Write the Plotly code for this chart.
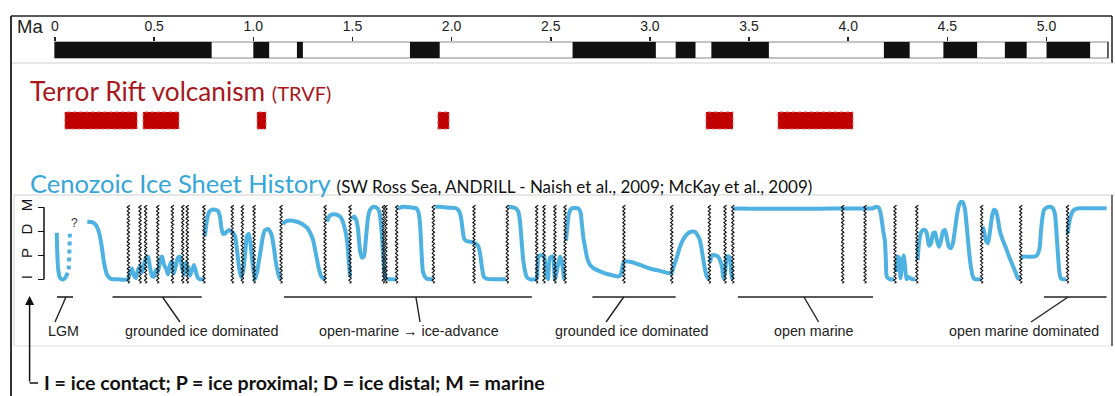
import numpy as np
import plotly.graph_objects as go

# ---------------- data ----------------
# Geomagnetic polarity timescale (Ma); black = normal polarity
normal_start = [0.00, 1.00, 1.22, 1.79, 2.61, 3.13, 3.31, 4.18, 4.48, 4.79, 5.00]
normal_end = [0.79, 1.08, 1.25, 1.94, 3.03, 3.23, 3.60, 4.31, 4.65, 4.90, 5.22]
scale_end = 5.31
tick_vals = [0, 0.5, 1.0, 1.5, 2.0, 2.5, 3.0, 3.5, 4.0, 4.5, 5.0]
tick_text = ["0", "0.5", "1.0", "1.5", "2.0", "2.5", "3.0", "3.5", "4.0", "4.5", "5.0"]

# Terror Rift volcanism (TRVF) episodes (Ma)
trvf_start = [0.050, 0.444, 1.019, 1.931, 3.283, 3.646]
trvf_end = [0.414, 0.625, 1.064, 1.987, 3.419, 4.024]

# Ice-sheet proximity levels: 0 = I, 1 = P, 2 = D, 3 = M
level_vals = [0, 1, 2, 3]
level_text = ["I", "P", "D", "M"]

lgm_age = [0.009, 0.012, 0.018, 0.028, 0.043, 0.055]
lgm_level = [1.94, 1.0, 0.3, 0.03, 0.0, 0.1]
lgm_dotted_age = [0.055, 0.068, 0.072, 0.075]
lgm_dotted_level = [0.1, 0.4, 1.0, 1.9]

ice_age = [
    0.163, 0.187, 0.207, 0.222, 0.235, 0.247, 0.262, 0.282, 0.318, 0.368,
    0.378, 0.388, 0.398, 0.408, 0.419, 0.429, 0.439, 0.449, 0.459, 0.469,
    0.479, 0.489, 0.499, 0.509, 0.519, 0.530, 0.540, 0.550, 0.560, 0.570,
    0.580, 0.590, 0.600, 0.610, 0.620, 0.630, 0.640, 0.651, 0.661, 0.671,
    0.681, 0.691, 0.701, 0.711, 0.721, 0.731, 0.741, 0.751, None,
    0.756, 0.767, 0.777, 0.792, 0.807, 0.822, 0.832, 0.840, 0.847, 0.857,
    0.868, 0.878, 0.888, 0.898, 0.908, 0.918, 0.928, 0.938, 0.948, 0.958,
    0.968, 0.978, 0.988, 0.999, 1.009, 1.019, 1.029, 1.039, 1.049, 1.059,
    1.074, 1.084, 1.094, 1.104, 1.114, 1.125, 1.135, None,
    1.150, 1.165, 1.185, 1.210, 1.236, 1.256, 1.271, 1.286, 1.301, 1.316,
    1.329, 1.341, 1.354, 1.362, None,
    1.372, 1.382, 1.397, 1.417, 1.437, 1.447, 1.462, 1.473, 1.480, 1.488, None,
    1.498, 1.508, 1.518, 1.528, 1.538, 1.548, 1.558, 1.568, 1.579, 1.589,
    1.604, 1.619, 1.634, 1.644, 1.652, 1.659, 1.667, 1.689, 1.720, None,
    1.730, 1.755, 1.790, 1.821, 1.833, 1.841, 1.848, 1.856, 1.871, 1.891,
    1.906, None,
    1.916, 1.941, 1.992, 2.022, 2.037, 2.047, 2.055, 2.063, 2.073, 2.088,
    2.103, 2.118, 2.133, 2.143, 2.153, 2.163, 2.179, 2.204, 2.244, 2.274, None,
    2.287, 2.305, 2.325, 2.337, 2.345, 2.353, 2.360, 2.370, 2.380, 2.395,
    2.426, 2.431, 2.438, 2.451, 2.466, 2.476, 2.486, 2.496, 2.511, 2.521,
    2.537, 2.547, 2.557, 2.567, None,
    2.577, 2.585, 2.592, 2.605, 2.622, 2.637, 2.650, 2.657, 2.665, 2.673,
    2.683, 2.698, 2.718, 2.748, 2.784, 2.819, 2.839, 2.852, 2.859, 2.869,
    2.900, 2.950, 3.000, 3.051, 3.101, 3.111, 3.121, 3.137, 3.152, 3.167,
    3.187, 3.207, 3.227, 3.243, 3.253, 3.260, 3.268, 3.278, 3.288, 3.298, None,
    3.303, 3.313, 3.328, 3.343, 3.353, 3.364, 3.371, 3.379, 3.389, 3.399,
    3.406, 3.411, 3.417, None,
    3.422, 3.429, 3.454, 3.555, 3.656, 3.757, 3.858, 3.959, 4.059, 4.125,
    4.140, 4.155, 4.165, 4.175, 4.185, 4.190, 4.195, 4.211, 4.231, None,
    4.241, 4.249, 4.256, 4.264, 4.271, 4.279, 4.286, 4.294, 4.302, 4.312,
    4.327, 4.337, None,
    4.350, 4.357, 4.367, 4.377, 4.387, 4.397, 4.407, 4.418, 4.428, 4.438,
    4.448, 4.458, 4.468, 4.478, 4.488, 4.498, 4.508, 4.518, 4.528, 4.539,
    4.549, 4.559, 4.569, 4.579, 4.589, 4.599, 4.609, 4.619, 4.629, 4.639,
    4.654, 4.669, None,
    4.677, 4.685, 4.695, 4.705, 4.715, 4.725, 4.735, 4.745, 4.755, 4.765,
    4.781, 4.796, 4.811, 4.826, 4.841, 4.856, 4.866, None,
    4.874, 4.887, 4.907, 4.932, 4.952, 4.965, 4.972, 4.980, 4.987, 5.003,
    5.018, 5.033, 5.043, 5.050, 5.058, 5.065, 5.073, 5.083, 5.098, None,
    5.106, 5.113, 5.123, 5.134, 5.149, 5.169, 5.194, 5.245, 5.303,
]
ice_level = [
    2.40, 2.38, 2.25, 1.95, 1.40, 0.70, 0.20, 0.02, 0.00, 0.00,
    0.30, 0.45, 0.15, 0.05, 0.40, 0.55, 0.30, 0.60, 0.90, 0.95,
    0.50, 0.15, 0.10, 0.40, 0.30, 0.80, 0.95, 0.60, 0.45, 0.20,
    0.60, 0.75, 0.25, 0.60, 0.90, 0.95, 0.50, 0.20, 0.70, 0.50,
    0.15, 0.40, 0.60, 0.30, 0.05, 0.00, 0.00, 0.00, None,
    1.80, 2.50, 2.80, 2.90, 2.90, 2.85, 2.60, 2.10, 1.90, 1.90,
    2.00, 2.05, 2.00, 1.95, 1.80, 1.20, 0.50, 0.10, 0.30, 1.00,
    1.80, 1.90, 1.30, 0.50, 0.00, 0.30, 0.80, 1.30, 1.80, 2.05,
    2.10, 2.00, 1.80, 1.30, 0.70, 0.25, 0.00, None,
    2.30, 2.42, 2.45, 2.42, 2.35, 2.25, 2.15, 1.95, 1.65, 1.05,
    0.50, 0.15, 0.03, 0.00, None,
    2.40, 2.62, 2.70, 2.70, 2.62, 2.50, 2.10, 1.60, 0.90, 0.10, None,
    2.50, 2.62, 2.50, 2.10, 1.20, 0.90, 0.95, 1.70, 2.60, 2.90,
    3.02, 3.00, 2.85, 2.30, 1.40, 0.50, 0.05, 0.00, 0.00, None,
    2.95, 3.02, 3.00, 2.96, 2.80, 2.30, 1.20, 0.30, 0.05, 0.00,
    0.00, None,
    3.02, 3.02, 2.98, 2.96, 2.85, 2.60, 2.10, 1.70, 1.60, 1.57,
    1.55, 1.50, 1.40, 1.10, 0.50, 0.10, 0.02, 0.00, 0.00, 0.00, None,
    3.02, 3.00, 2.95, 2.80, 2.40, 1.60, 0.90, 0.35, 0.08, 0.00,
    0.00, 0.10, 0.95, 1.00, 0.95, 0.30, 0.00, 0.90, 0.95, 0.00,
    0.60, 0.95, 0.70, 0.00, None,
    1.60, 2.30, 2.75, 2.95, 2.97, 2.96, 2.80, 2.30, 1.70, 1.35,
    0.90, 0.60, 0.45, 0.33, 0.22, 0.15, 0.12, 0.18, 0.40, 0.73,
    0.73, 0.60, 0.45, 0.35, 0.25, 0.30, 0.55, 0.95, 1.36, 1.65,
    1.88, 1.98, 1.98, 1.80, 1.60, 1.30, 0.90, 0.40, 0.10, 0.00, None,
    0.70, 1.00, 1.00, 0.95, 0.80, 0.50, 0.05, 0.30, 0.95, 0.95,
    0.70, 0.20, 0.00, None,
    2.89, 2.95, 2.95, 2.94, 2.94, 2.94, 2.94, 2.95, 2.95, 2.96,
    3.02, 2.98, 2.70, 2.10, 1.60, 0.80, 0.10, 0.00, 0.00, None,
    0.30, 0.95, 0.90, 0.05, 0.60, 1.00, 0.60, 0.00, 0.10, 0.05,
    0.00, 0.00, None,
    0.80, 1.50, 1.95, 2.05, 2.05, 1.90, 1.40, 1.50, 1.92, 1.95,
    1.60, 1.35, 1.60, 2.00, 2.05, 1.70, 1.35, 1.30, 1.50, 2.10,
    2.70, 3.10, 3.23, 3.20, 2.90, 2.10, 1.20, 0.50, 0.10, 0.00,
    0.00, 0.00, None,
    2.20, 2.00, 1.60, 1.50, 2.00, 2.60, 2.90, 2.85, 2.50, 2.00,
    1.60, 1.30, 0.95, 0.65, 0.35, 0.05, 0.00, None,
    0.90, 0.95, 0.94, 0.94, 1.00, 1.30, 2.00, 2.60, 2.88, 3.00,
    3.02, 2.95, 2.70, 2.00, 1.00, 0.30, 0.03, 0.00, 0.00, None,
    1.90, 2.30, 2.65, 2.85, 2.93, 2.96, 2.96, 2.96, 2.96,
]

# Unconformities (wavy lines), Ma
unconformities = [
    0.370, 0.429, 0.457, 0.518, 0.592, 0.644, 0.667, 0.751, 0.894, 0.945,
    1.004, 1.140, 1.362, 1.488, 1.656, 1.669, 1.723, 1.908, 2.113, 2.281,
    2.429, 2.466, 2.521, 2.572, 2.869, 3.110, 3.300, 3.379, 3.418, 3.972,
    4.085, 4.236, 4.346, 4.673, 4.870, 5.106,
]

# Interpretive intervals
interval_labels = ["LGM", "grounded ice dominated", "open-marine \u2192 ice-advance",
                   "grounded ice dominated", "open marine", "open marine dominated"]
interval_start = [0.010, 0.290, 1.155, 2.710, 3.444, 4.987]
interval_end = [0.091, 0.740, 2.405, 3.130, 4.125, 5.303]
interval_label_x = [0.045, 0.739, 1.783, 2.905, 3.828, 4.889]
connector_top_x = [0.055, 0.542, 1.820, 2.868, 3.777, 5.109]
connector_bottom_x = [0.000, 0.630, 1.841, 2.779, 3.851, 4.922]

# ---------------- figure ----------------
W, H = 1115, 396
BLUE = "#4db1e1"
TITLE_BLUE = "#34a6d9"
DARK_RED = "#a8171c"
BLOCK_RED = "#c00000"


def px(x):
    return x / W


def py(y):
    return 1 - y / H


fig = go.Figure()

# invisible trace to create the x/y subplot for the time scale
fig.add_trace(go.Scatter(x=[0], y=[0.5], mode="markers", marker=dict(opacity=0),
                         xaxis="x", yaxis="y", showlegend=False, hoverinfo="skip"))

# ice sheet curve
fig.add_trace(go.Scatter(x=ice_age, y=ice_level, mode="lines", xaxis="x", yaxis="y2",
                         line=dict(color=BLUE, width=4, shape="spline", smoothing=0.6),
                         connectgaps=False, showlegend=False, hoverinfo="skip"))
fig.add_trace(go.Scatter(x=lgm_age, y=lgm_level, mode="lines", xaxis="x", yaxis="y2",
                         line=dict(color=BLUE, width=4, shape="spline"),
                         showlegend=False, hoverinfo="skip"))
fig.add_trace(go.Scatter(x=lgm_dotted_age, y=lgm_dotted_level, mode="lines", xaxis="x", yaxis="y2",
                         line=dict(color=BLUE, width=4, dash="dot", shape="spline"),
                         showlegend=False, hoverinfo="skip"))

# wavy unconformity lines
wy = np.linspace(-0.17, 3.1, 130)
wx_all, wy_all = [], []
for u in unconformities:
    wx_all += list(u + 0.006 * np.sin(2 * np.pi * wy / 0.16)) + [None]
    wy_all += list(wy) + [None]
fig.add_trace(go.Scatter(x=wx_all, y=wy_all, mode="lines", xaxis="x", yaxis="y2",
                         line=dict(color="#111111", width=1.1), showlegend=False,
                         hoverinfo="skip"))

shapes = []
# polarity bar
for s, e in zip(normal_start, normal_end):
    shapes.append(dict(type="rect", xref="x", yref="y", x0=s, x1=e, y0=0, y1=1,
                       fillcolor="#111111", line=dict(width=0)))
shapes.append(dict(type="rect", xref="x", yref="y", x0=0, x1=scale_end, y0=0, y1=1,
                   fillcolor="rgba(0,0,0,0)", line=dict(color="#111111", width=1.3)))

# TRVF blocks
for s, e in zip(trvf_start, trvf_end):
    shapes.append(dict(type="rect", xref="x", yref="paper", x0=s, x1=e, y0=py(129), y1=py(112),
                       fillcolor=BLOCK_RED, line=dict(color="#e06060", width=1, dash="dot")))

# interval brackets
for s, e, ct, cb in zip(interval_start, interval_end, connector_top_x, connector_bottom_x):
    shapes.append(dict(type="line", xref="x", yref="paper", x0=s, x1=e, y0=py(297), y1=py(297),
                       line=dict(color="#222222", width=1.6)))
    shapes.append(dict(type="line", xref="x", yref="paper", x0=ct, x1=cb, y0=py(297), y1=py(322),
                       line=dict(color="#222222", width=1.4)))

# I-P-D-M bracket line
shapes.append(dict(type="line", xref="paper", yref="y2", x0=px(44), x1=px(44), y0=0, y1=3,
                   line=dict(color="#111111", width=1.5)))


# frames
def seg(x0, y0, x1, y1, color, width):
    shapes.append(dict(type="line", xref="paper", yref="paper", x0=px(x0), y0=py(y0),
                       x1=px(x1), y1=py(y1), line=dict(color=color, width=width)))


seg(11, 16, 1112, 16, "#222222", 1.5)
seg(1112, 16, 1112, 63, "#222222", 1.5)
seg(11, 63, 1112, 63, "#d0d0d0", 1)
seg(11, 16, 11, 396, "#333333", 2)
seg(14, 195, 1115, 195, "#d0d0d0", 1)
seg(14, 195, 14, 346, "#d0d0d0", 1)
seg(14, 346, 1112, 346, "#dddddd", 1)
seg(1112, 195, 1112, 346, "#444444", 1.5)
# arrow tail
seg(29.6, 383, 38, 383, "#111111", 1.5)

annotations = []
annotations.append(dict(xref="paper", yref="paper", x=px(15), y=py(27), xanchor="left",
                        yanchor="middle", text="Ma", showarrow=False,
                        font=dict(family="Liberation Sans", size=18.5, color="#222222")))
annotations.append(dict(xref="paper", yref="paper", x=px(28), y=py(91), xanchor="left",
                        yanchor="middle", showarrow=False,
                        text="Terror Rift volcanism <span style='font-size:20px'>(TRVF)</span>",
                        font=dict(family="Lato", size=26.2, color=DARK_RED)))
annotations.append(dict(xref="paper", yref="paper", x=px(28), y=py(183), xanchor="left",
                        yanchor="middle", showarrow=False,
                        text="Cenozoic Ice Sheet History <span style='font-size:17px;fill:#111111'>"
                             "(SW Ross Sea, ANDRILL - Naish et al., 2009; McKay et al., 2009)</span>",
                        font=dict(family="Lato", size=25.5, color=TITLE_BLUE)))
annotations.append(dict(xref="x", yref="y2", x=0.096, y=2.35, text="?", showarrow=False,
                        font=dict(family="Liberation Sans", size=12, color="#333333")))
for lab, lx in zip(interval_labels, interval_label_x):
    annotations.append(dict(xref="x", yref="paper", x=lx, y=py(331), text=lab, showarrow=False,
                            xanchor="center", yanchor="middle",
                            font=dict(family="Liberation Sans", size=14.3, color="#222222")))
# arrow
annotations.append(dict(xref="paper", yref="paper", x=px(29.6), y=py(296), ax=0, ay=87,
                        axref="pixel", ayref="pixel", text="", showarrow=True,
                        arrowhead=2, arrowsize=1.2, arrowwidth=1.5, arrowcolor="#111111"))
annotations.append(dict(xref="paper", yref="paper", x=px(42), y=py(382), xanchor="left",
                        yanchor="middle", showarrow=False,
                        text="<b>I = ice contact; P = ice proximal; D = ice distal; M = marine</b>",
                        font=dict(family="Lato", size=19.6, color="#111111")))

x0_ma = (0 - 55) / 198.3
x1_ma = (W - 55) / 198.3

fig.update_layout(
    width=W, height=H, margin=dict(l=0, r=0, t=0, b=0),
    paper_bgcolor="white", plot_bgcolor="rgba(0,0,0,0)",
    showlegend=False, shapes=shapes, annotations=annotations,
    xaxis=dict(domain=[0, 1], range=[x0_ma, x1_ma], anchor="y", side="top",
               showgrid=False, zeroline=False, showline=False,
               tickmode="array", tickvals=tick_vals, ticktext=tick_text,
               ticks="outside", ticklen=4, tickwidth=1.5, tickcolor="#222222",
               tickfont=dict(family="Liberation Sans", size=14, color="#222222")),
    yaxis=dict(domain=[py(58.3), py(41.7)], range=[0, 1], visible=False, fixedrange=True),
    yaxis2=dict(domain=[py(286.5), py(200.1)], range=[-0.3, 3.3], anchor="free",
                position=px(44), side="left", showgrid=False, zeroline=False,
                showline=False, tickmode="array", tickvals=level_vals, ticktext=level_text,
                tickangle=-90, ticks="outside", ticklen=6, tickwidth=1.5,
                tickcolor="#111111",
                tickfont=dict(family="Liberation Sans", size=15, color="#111111")),
)

fig.write_html("out.html",
               config={"displayModeBar": False, "staticPlot": True},
               post_script="document.body.style.margin='0px';"
                           "document.body.style.overflow='hidden';")
